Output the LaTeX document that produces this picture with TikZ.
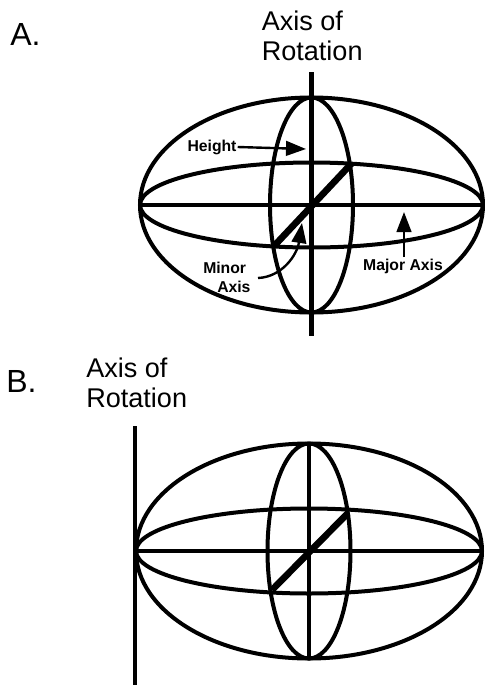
\documentclass[tikz,border=0pt]{standalone}
\usepackage{fontspec}
\setmainfont{Liberation Sans}
\usetikzlibrary{arrows.meta}
\tikzset{
  x=0.75pt,y=-0.75pt,
  shell/.style={draw=black,line width=3pt,fill=none},
  axisline/.style={draw=black,line width=3.2pt},
  thickdiag/.style={draw=black,line width=5pt},
  pointer/.style={draw=black,line width=1.8pt,-{Triangle[length=15pt,width=11pt]}},
  biglabel/.style={font=\fontsize{20.3pt}{22pt}\selectfont,align=left,inner sep=0pt},
  letterlabel/.style={font=\fontsize{24pt}{26pt}\selectfont,inner sep=0pt},
  smalllabel/.style={font=\fontsize{11.8pt}{14.3pt}\selectfont\bfseries,align=left,inner sep=0pt}
}
\begin{document}
\begin{tikzpicture}
\useasboundingbox (0,0) rectangle (485,686);
% Part A
\coordinate (ac) at (311.5,205);
\draw[shell] (ac) ellipse [x radius=171.5,y radius=107.5];
\draw[shell] (ac) ellipse [x radius=41.5,y radius=107.5];
\draw[shell] (ac) ellipse [x radius=171.5,y radius=42.5];
\coordinate (al) at (140,205);
\coordinate (ar) at (483,205);
\coordinate (at) at (311.5,72);
\coordinate (ab) at (311.5,336);
\coordinate (ad1) at (275,245);
\coordinate (ad2) at (352,163);
\draw[axisline] (al) -- (ar);
\draw[axisline] (at) -- (ab);
\draw[thickdiag] (ad1) -- (ad2);
\node[letterlabel,anchor=base west] (lA) at (10,45) {A.};
\node[biglabel,anchor=north west] (axA) at (261.5,11) {Axis of\\Rotation};
\node[smalllabel] (height) at (212,147) {Height};
\node[smalllabel,anchor=north west] (minor) at (203,262) {Minor\\\hspace*{10.5pt}Axis};
\node[smalllabel,anchor=base] (major) at (403,270) {Major Axis};
\coordinate (htip) at (306,149);
\coordinate (mtip) at (404,212);
\coordinate (ntip) at (302,223);
\coordinate (nstart) at (258,278);
\coordinate (mstart) at (404,257);
\draw[pointer] (height.east) ++(1,0) -- (htip);
\draw[pointer] (mstart) -- (mtip);
\draw[pointer] (nstart) .. controls (282,277) and (297,255) .. (ntip);
% Part B
\coordinate (bc) at (309,551);
\draw[shell] (bc) ellipse [x radius=173,y radius=107.5];
\draw[shell] (bc) ellipse [x radius=41.5,y radius=107.5];
\draw[shell] (bc) ellipse [x radius=173,y radius=42.5];
\coordinate (bl) at (135,551);
\coordinate (br) at (483,551);
\coordinate (bt) at (309,444);
\coordinate (bb) at (309,659);
\coordinate (bd1) at (272,590);
\coordinate (bd2) at (348,513);
\coordinate (rt) at (135,426);
\coordinate (rb) at (135,685);
\draw[axisline] (bl) -- (br);
\draw[axisline] (bt) -- (bb);
\draw[thickdiag] (bd1) -- (bd2);
\draw[axisline] (rt) -- (rb);
\node[letterlabel,anchor=base west] (lB) at (6,392) {B.};
\node[biglabel,anchor=north west] (axB) at (86,358) {Axis of\\Rotation};
\end{tikzpicture}
\end{document}
